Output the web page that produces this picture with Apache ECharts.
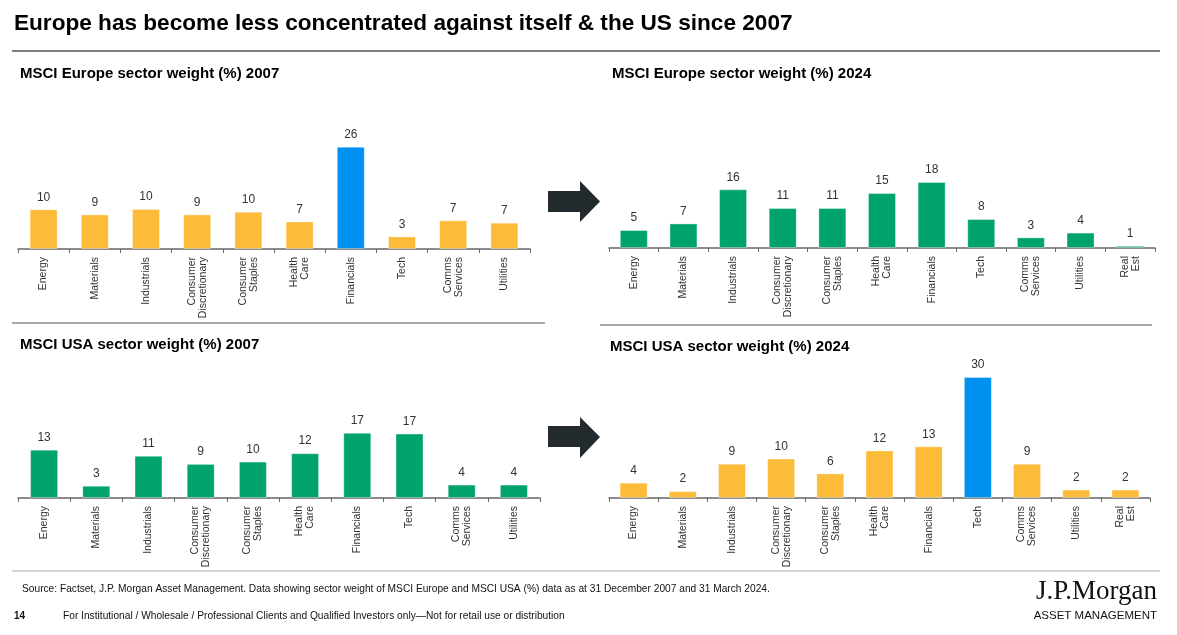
<!DOCTYPE html>
<html><head><meta charset="utf-8">
<script src="https://cdn.jsdelivr.net/npm/echarts@6/dist/echarts.min.js"></script>
<style>html,body{margin:0;padding:0;background:#fff;}#c{width:1177px;height:635px;}</style>
</head><body><div id="c"></div>
<script>
const cats2007 = ['Energy','Materials','Industrials','Consumer\nDiscretionary','Consumer\nStaples','Health\nCare','Financials','Tech','Comms\nServices','Utilities'];
const cats2024 = ['Energy','Materials','Industrials','Consumer\nDiscretionary','Consumer\nStaples','Health\nCare','Financials','Tech','Comms\nServices','Utilities','Real\nEst'];
const europe2007 = [10.1, 8.8, 10.2, 8.8, 9.5, 7.0, 26.0, 3.2, 7.3, 6.7];
const europe2024 = [4.9, 6.7, 16.0, 10.9, 10.9, 15.0, 18.0, 7.9, 2.9, 4.2, 0.6];
const usa2007 = [12.6, 3.2, 11.0, 8.9, 9.5, 11.7, 17.0, 16.8, 3.5, 3.5];
const usa2024 = [3.8, 1.7, 8.5, 9.8, 6.1, 11.8, 12.8, 30.0, 8.5, 2.1, 2.1];
const panelTitles = ['MSCI Europe sector weight (%) 2007','MSCI Europe sector weight (%) 2024','MSCI USA sector weight (%) 2007','MSCI USA sector weight (%) 2024'];

const YEL = '#FDBB3A', GRN = '#00A36C', BLU = '#0091F0';
const FONT = '"Liberation Sans", Arial, sans-serif';

const panels = [
  {cats: cats2007, data: europe2007, base: YEL, hi: 'Financials', grid: {left: 18, width: 512, top: 131, height: 118}},
  {cats: cats2024, data: europe2024, base: GRN, hi: null, grid: {left: 609, width: 546, top: 138, height: 110}},
  {cats: cats2007, data: usa2007, base: GRN, hi: null, grid: {left: 18, width: 522, top: 383, height: 115}},
  {cats: cats2024, data: usa2024, base: YEL, hi: 'Tech', grid: {left: 609, width: 541, top: 377, height: 121}}
];

const grids = [], xAxes = [], yAxes = [], series = [];
panels.forEach((p, i) => {
  grids.push(Object.assign({containLabel: false}, p.grid));
  xAxes.push({
    type: 'category', gridIndex: i, data: p.cats,
    axisLine: {lineStyle: {color: '#666', width: 1.5}},
    axisTick: {show: true, length: 4, lineStyle: {color: '#666'}},
    axisLabel: {rotate: 90, fontSize: 10.5, color: '#333', fontFamily: FONT, margin: 8, lineHeight: 11, interval: 0}
  });
  yAxes.push({type: 'value', gridIndex: i, min: 0, max: 30, show: false, splitLine: {show: false}});
  series.push({
    type: 'bar', xAxisIndex: i, yAxisIndex: i, barWidth: 28,
    data: p.data.map((v, k) => ({value: v, itemStyle: {color: p.cats[k] === p.hi ? BLU : p.base}})),
    label: {show: true, position: 'top', distance: 6, fontSize: 12, color: '#333', fontFamily: FONT,
      formatter: d => Math.round(d.value)},
    itemStyle: {borderColor: 'rgba(255,255,255,0.35)', borderWidth: 1},
    silent: true, animation: false
  });
});

const graphic = [
  {type: 'text', left: 14, top: 12, style: {text: 'Europe has become less concentrated against itself & the US since 2007', font: 'bold 22.6px ' + FONT, fill: '#000'}},
  {type: 'line', shape: {x1: 12, y1: 51, x2: 1160, y2: 51}, style: {stroke: '#555', lineWidth: 1.5}},
  {type: 'text', left: 20, top: 66, style: {text: panelTitles[0], font: 'bold 15px ' + FONT, fill: '#000'}},
  {type: 'text', left: 612, top: 66, style: {text: panelTitles[1], font: 'bold 15px ' + FONT, fill: '#000'}},
  {type: 'line', shape: {x1: 12, y1: 323, x2: 545, y2: 323}, style: {stroke: '#555', lineWidth: 1.2}},
  {type: 'line', shape: {x1: 600, y1: 325, x2: 1152, y2: 325}, style: {stroke: '#555', lineWidth: 1.2}},
  {type: 'text', left: 20, top: 337, style: {text: panelTitles[2], font: 'bold 15px ' + FONT, fill: '#000'}},
  {type: 'text', left: 610, top: 339, style: {text: panelTitles[3], font: 'bold 15px ' + FONT, fill: '#000'}},
  {type: 'polygon', shape: {points: [[548,191],[580,191],[580,181],[600,201.5],[580,222],[580,212],[548,212]]}, style: {fill: '#232a2e'}},
  {type: 'polygon', shape: {points: [[548,426],[580,426],[580,417],[600,437],[580,458],[580,447],[548,447]]}, style: {fill: '#232a2e'}},
  {type: 'line', shape: {x1: 12, y1: 571, x2: 1160, y2: 571}, style: {stroke: '#aaa', lineWidth: 1}},
  {type: 'text', left: 22, top: 584, style: {text: 'Source: Factset, J.P. Morgan Asset Management. Data showing sector weight of MSCI Europe and MSCI USA (%) data as at 31 December 2007 and 31 March 2024.', font: '10.2px ' + FONT, fill: '#111'}},
  {type: 'text', left: 14, top: 611, style: {text: '14', font: 'bold 10px ' + FONT, fill: '#111'}},
  {type: 'text', left: 63, top: 611, style: {text: 'For Institutional / Wholesale / Professional Clients and Qualified Investors only\u2014Not for retail use or distribution', font: '10.2px ' + FONT, fill: '#111'}},
  {type: 'text', right: 20, top: 578, style: {text: 'J.P.Morgan', font: '27px "Liberation Serif", "Times New Roman", serif', fill: '#111'}},
  {type: 'text', right: 20, top: 610, style: {text: 'ASSET MANAGEMENT', font: '11.5px ' + FONT, fill: '#111'}}
];

const chart = echarts.init(document.getElementById('c'), null, {renderer: 'canvas'});
chart.setOption({animation: false, grid: grids, xAxis: xAxes, yAxis: yAxes, series: series, graphic: graphic});
</script>
</body></html>
